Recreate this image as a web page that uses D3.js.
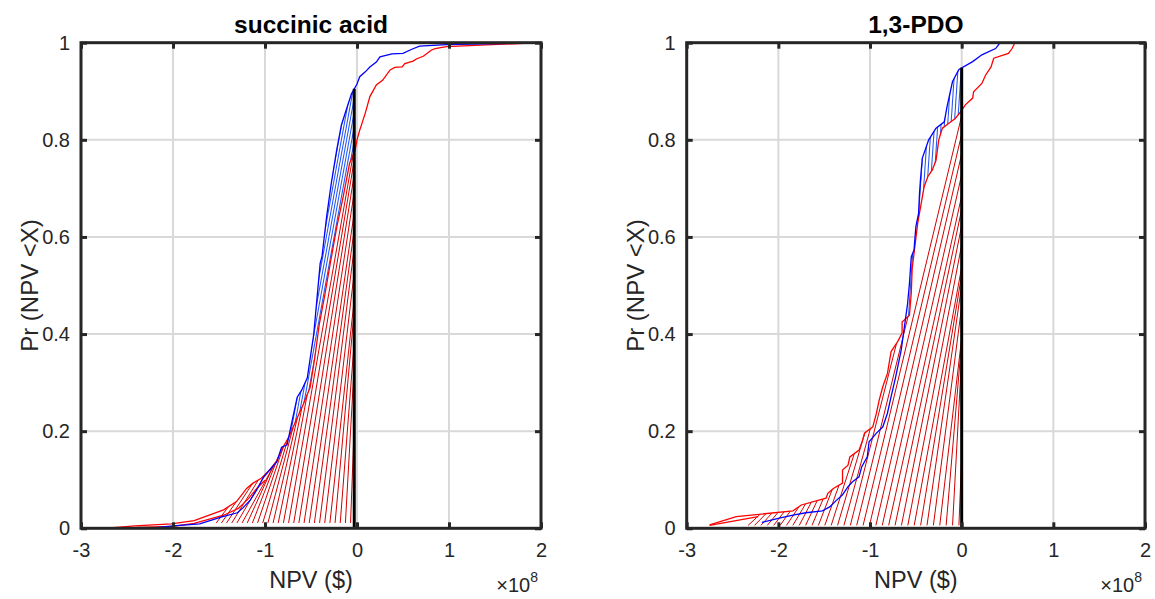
<!DOCTYPE html>
<html><head><meta charset="utf-8">
<script src="https://cdn.jsdelivr.net/npm/d3@7"></script>
<style>
body{margin:0;background:#fff;}
text{font-family:Arial,"Liberation Sans",Helvetica,sans-serif;}
</style>
</head><body>
<svg id="c" width="1155" height="599"></svg>
<script>
// ---------- data ----------
const xTicks = [-3,-2,-1,0,1,2];
const xTickLabels = ["-3","-2","-1","0","1","2"];
const yTicks = [0,0.2,0.4,0.6,0.8,1];
const yTickLabels = ["0","0.2","0.4","0.6","0.8","1"];
const panelTitles = ["succinic acid","1,3-PDO"];
const xLabel = "NPV ($)";
const yLabel = "Pr (NPV <X)";
const thresholdX = [-0.03, 0];

// succinic acid (NPV in 1e8 $)
const saBlueX = [-2.27,-2.0,-1.71,-1.46,-1.30,-1.24,-1.16,-1.09,-1.02,-0.95,-0.87,-0.82,-0.76,-0.71,-0.65,-0.60,-0.54,-0.47,-0.40,-0.38,-0.33,-0.28,-0.22,-0.17,-0.12,-0.06,0.0,0.03,0.09,0.14,0.21,0.25,0.38,0.5,0.59,0.68,0.97,1.7,2.0];
const saBlueP = [0,0.005,0.009,0.024,0.032,0.042,0.058,0.079,0.104,0.12,0.137,0.167,0.172,0.217,0.27,0.285,0.31,0.40,0.546,0.56,0.642,0.71,0.78,0.83,0.86,0.895,0.915,0.93,0.94,0.95,0.96,0.971,0.977,0.978,0.986,0.993,0.996,0.999,1.0];
const saRedX = [-2.76,-2.41,-2.02,-1.77,-1.45,-1.31,-1.24,-1.20,-1.13,-1.04,-0.95,-0.88,-0.81,-0.73,-0.66,-0.58,-0.51,-0.46,-0.41,-0.35,-0.29,-0.22,-0.15,-0.08,-0.02,0.0,0.03,0.09,0.14,0.21,0.28,0.36,0.41,0.49,0.52,0.61,0.65,0.72,0.81,0.85,0.97,1.34,2.0];
const saRedP = [0,0.005,0.009,0.016,0.038,0.055,0.072,0.082,0.093,0.103,0.12,0.137,0.165,0.192,0.223,0.257,0.29,0.35,0.42,0.48,0.546,0.62,0.683,0.752,0.779,0.80,0.82,0.855,0.889,0.913,0.923,0.944,0.949,0.95,0.957,0.962,0.967,0.972,0.985,0.988,0.992,0.995,1.0];
const saRedEdgeX = [-2.4,-2.0,-1.77,-1.45,-1.29,-1.18,-1.09,-1.0];
const saRedEdgeP = [0.002,0.004,0.01,0.027,0.041,0.061,0.082,0.099];

// 1,3-PDO
const pdoBlueX = [-2.18,-1.99,-1.84,-1.70,-1.52,-1.44,-1.37,-1.30,-1.24,-1.19,-1.12,-1.09,-1.03,-1.01,-0.93,-0.86,-0.81,-0.77,-0.72,-0.66,-0.63,-0.59,-0.57,-0.55,-0.52,-0.50,-0.47,-0.46,-0.45,-0.43,-0.36,-0.28,-0.19,-0.16,-0.10,-0.03,0.12,0.22,0.37,0.42];
const pdoBlueP = [0.012,0.021,0.027,0.032,0.036,0.044,0.057,0.069,0.086,0.096,0.106,0.127,0.147,0.178,0.196,0.209,0.237,0.271,0.312,0.367,0.408,0.463,0.504,0.559,0.573,0.621,0.649,0.69,0.717,0.762,0.80,0.824,0.837,0.868,0.92,0.945,0.961,0.975,0.988,1.0];
const pdoRedX = [-2.75,-2.46,-1.84,-1.75,-1.48,-1.46,-1.40,-1.30,-1.30,-1.24,-1.22,-1.12,-1.08,-1.06,-0.97,-0.93,-0.90,-0.86,-0.81,-0.77,-0.70,-0.65,-0.65,-0.57,-0.55,-0.54,-0.52,-0.48,-0.41,-0.37,-0.32,-0.28,-0.25,-0.21,-0.14,-0.07,-0.01,0.04,0.12,0.13,0.22,0.26,0.32,0.35,0.51,0.55,0.58];
const pdoRedP = [0.007,0.024,0.036,0.048,0.062,0.072,0.082,0.093,0.12,0.13,0.147,0.161,0.182,0.196,0.209,0.237,0.264,0.292,0.319,0.364,0.384,0.402,0.425,0.439,0.484,0.535,0.566,0.628,0.703,0.724,0.738,0.758,0.80,0.824,0.834,0.844,0.858,0.872,0.886,0.899,0.916,0.933,0.95,0.968,0.978,0.988,1.0];
const pdoRedEdgeX = [-2.75,-2.22];
const pdoRedEdgeP = [0.006,0.024];

// ---------- helpers ----------
function interp(xs, ys, v){
  const n = xs.length;
  if (v <= xs[0]) return ys[0];
  for (let i=1;i<n;i++){
    if (xs[i] >= v){
      const d = xs[i]-xs[i-1];
      const t = d>0 ? (v-xs[i-1])/d : 1;
      return ys[i-1] + t*(ys[i]-ys[i-1]);
    }
  }
  return ys[n-1];
}
function region(xs, ps, xb, pb){
  const pts = [];
  for (let i=0;i<xs.length;i++) if (xs[i] < xb) pts.push([xs[i], ps[i]]);
  pts.push([xb, interp(xs, ps, xb)]);
  pts.push([xb, pb]);
  pts.push([xs[0], pb]);
  return pts;
}

const svg = d3.select("#c");
const defs = svg.append("defs");
const ink = "#262626";

function panel(cfg, idx){
  const x = d3.scaleLinear().domain([-3,2]).range([cfg.x0, cfg.x1]);
  const y = d3.scaleLinear().domain([0,1]).range([528.3, 42.7]);
  const g = svg.append("g");
  const xb = thresholdX[idx];
  const line = d3.line().x(d=>x(d[0])).y(d=>y(d[1]));
  const toPath = pts => "M" + pts.map(d=>x(d[0])+","+y(d[1])).join("L") + "Z";

  // grid
  g.append("g").selectAll("line").data(xTicks.slice(1,-1)).join("line")
    .attr("x1",d=>x(d)).attr("x2",d=>x(d)).attr("y1",y(0)).attr("y2",y(1))
    .attr("stroke","#d9d9d9").attr("stroke-width",2);
  g.append("g").selectAll("line").data(yTicks.slice(1,-1)).join("line")
    .attr("y1",d=>y(d)).attr("y2",d=>y(d)).attr("x1",x(-3)).attr("x2",x(2))
    .attr("stroke","#d9d9d9").attr("stroke-width",2);

  // blue region + parallel hatch
  const bReg = region(cfg.bx, cfg.bp, xb, 0);
  const cid = "clipB"+idx;
  defs.append("clipPath").attr("id",cid).append("path").attr("d", toPath(bReg));
  g.append("path").attr("d", toPath(bReg)).attr("fill","#fff");
  const bh = g.append("g").attr("clip-path","url(#"+cid+")");
  const H = 500;
  const offs = d3.range(x(-3.4), x(0.2), cfg.blueSpacing);
  bh.selectAll("line").data(offs).join("line")
    .attr("x1",d=>d).attr("y1",y(0)+2).attr("x2",d=>d+H/cfg.blueSlope).attr("y2",y(0)+2-H)
    .attr("stroke","#2456f0").attr("stroke-width",1.05);

  // red region white fill
  const rReg = region(cfg.rx, cfg.rp, xb, 0);
  g.append("path").attr("d", toPath(rReg)).attr("fill","#fff");

  // red fan hatch
  const slopeFn = d3.scaleLinear().domain(cfg.redSlopeAt).range(cfg.redSlope).clamp(true);
  const n = cfg.redN;
  const bottoms = d3.range(n).map(i => cfg.redB0 + i*(cfg.redB1-cfg.redB0)/(n-1));
  const segs = [];
  bottoms.forEach(b=>{
    const s = slopeFn(b);
    const X0 = x(b), Y0 = y(cfg.redPb);
    let last = null;
    for (let k=0;k<600;k+=0.5){
      const xp = X0 + k/s, yp = Y0 - k;
      const dx = x.invert(xp), dp = y.invert(yp);
      if (dx > xb){ const kk=(x(xb)-X0)*s; last=[x(xb), Y0-kk]; break; }
      if (dp > 1 || dx < interp(cfg.rp, cfg.rx, dp)) break;
      last = [xp, yp];
    }
    if (last) segs.push([[X0,Y0], last]);
  });
  g.append("g").selectAll("line").data(segs).join("line")
    .attr("x1",d=>d[0][0]).attr("y1",d=>d[0][1]).attr("x2",d=>d[1][0]).attr("y2",d=>d[1][1])
    .attr("stroke","#d20000").attr("stroke-width",1);

  // red edge
  g.append("path").attr("d", line(cfg.ex.map((v,i)=>[v,cfg.ep[i]])))
    .attr("fill","none").attr("stroke","#ff0000").attr("stroke-width",1.2);
  // curves
  g.append("path").attr("d", line(cfg.rx.map((v,i)=>[v,cfg.rp[i]])))
    .attr("fill","none").attr("stroke","#ff0000").attr("stroke-width",1.3);
  g.append("path").attr("d", line(cfg.bx.map((v,i)=>[v,cfg.bp[i]])))
    .attr("fill","none").attr("stroke","#0000ff").attr("stroke-width",1.3);

  // threshold line
  const pTop = interp(cfg.bx, cfg.bp, xb);
  g.append("line").attr("x1",x(xb)).attr("x2",x(xb)).attr("y1",y(0)).attr("y2",y(pTop))
    .attr("stroke","#000").attr("stroke-width",3);

  // axes
  const tick = 6;
  const ax = [
    g.append("g").attr("transform",`translate(0,${y(0)})`)
      .call(d3.axisBottom(x).tickValues(xTicks).tickFormat((d,i)=>xTickLabels[i]).tickSizeInner(-tick).tickSizeOuter(0).tickPadding(15)),
    g.append("g").attr("transform",`translate(0,${y(1)})`)
      .call(d3.axisTop(x).tickValues(xTicks).tickFormat("").tickSizeInner(-tick).tickSizeOuter(0)),
    g.append("g").attr("transform",`translate(${x(-3)},0)`)
      .call(d3.axisLeft(y).tickValues(yTicks).tickFormat((d,i)=>yTickLabels[i]).tickSizeInner(-tick).tickSizeOuter(0).tickPadding(11)),
    g.append("g").attr("transform",`translate(${x(2)},0)`)
      .call(d3.axisRight(y).tickValues(yTicks).tickFormat("").tickSizeInner(-tick).tickSizeOuter(0))
  ];
  ax.forEach(a=>{
    a.select(".domain").remove();
    a.selectAll(".tick line").attr("stroke",ink).attr("stroke-width",3);
    a.selectAll(".tick text").attr("fill",ink).style("font-size","20px").style("font-family","Arial, 'Liberation Sans', sans-serif");
  });
  g.append("rect").attr("x",x(-3)).attr("y",y(1)).attr("width",x(2)-x(-3)).attr("height",y(0)-y(1))
    .attr("fill","none").attr("stroke",ink).attr("stroke-width",3);

  const cx = (x(-3)+x(2))/2;
  g.append("text").attr("x",cx).attr("y",33).attr("text-anchor","middle")
    .style("font-size","24.5px").style("font-weight","bold").attr("fill","#000").text(panelTitles[idx]);
  g.append("text").attr("x",cx).attr("y",588).attr("text-anchor","middle")
    .style("font-size","23.5px").attr("fill",ink).text(xLabel);
  g.append("text").attr("transform",`translate(${x(-3)-43},${(y(0)+y(1))/2}) rotate(-90)`)
    .attr("text-anchor","middle").style("font-size","24px").attr("fill",ink).text(yLabel);
  const ex = g.append("text").attr("x",x(2)-3).attr("y",592).attr("text-anchor","end")
    .style("font-size","20px").attr("fill",ink);
  ex.append("tspan").text("\u00d710");
  ex.append("tspan").attr("dy",-10).style("font-size","14px").text("8");
}

panel({x0:81, x1:541, bx:saBlueX, bp:saBlueP, rx:saRedX, rp:saRedP, ex:saRedEdgeX, ep:saRedEdgeP,
  blueSlope:5.5, blueSpacing:2.6, redN:27, redB0:-1.53, redB1:-0.07, redPb:0.011,
  redSlopeAt:[-1.55,-1.25,-1.0,-0.8,-0.5,-0.3,-0.15,-0.05], redSlope:[1.3,1.8,3.5,5.4,7,9,14,30]}, 0);
panel({x0:686.7, x1:1145, bx:pdoBlueX, bp:pdoBlueP, rx:pdoRedX, rp:pdoRedP, ex:pdoRedEdgeX, ep:pdoRedEdgeP,
  blueSlope:15, blueSpacing:3.3, redN:34, redB0:-2.33, redB1:-0.03, redPb:0.006,
  redSlopeAt:[-2.35,-1.9,-1.5,-1.2,-0.8,-0.5,-0.2,-0.03], redSlope:[0.9,1.5,2.8,4.0,4.5,5.5,9,25]}, 1);
</script>
</body></html>
